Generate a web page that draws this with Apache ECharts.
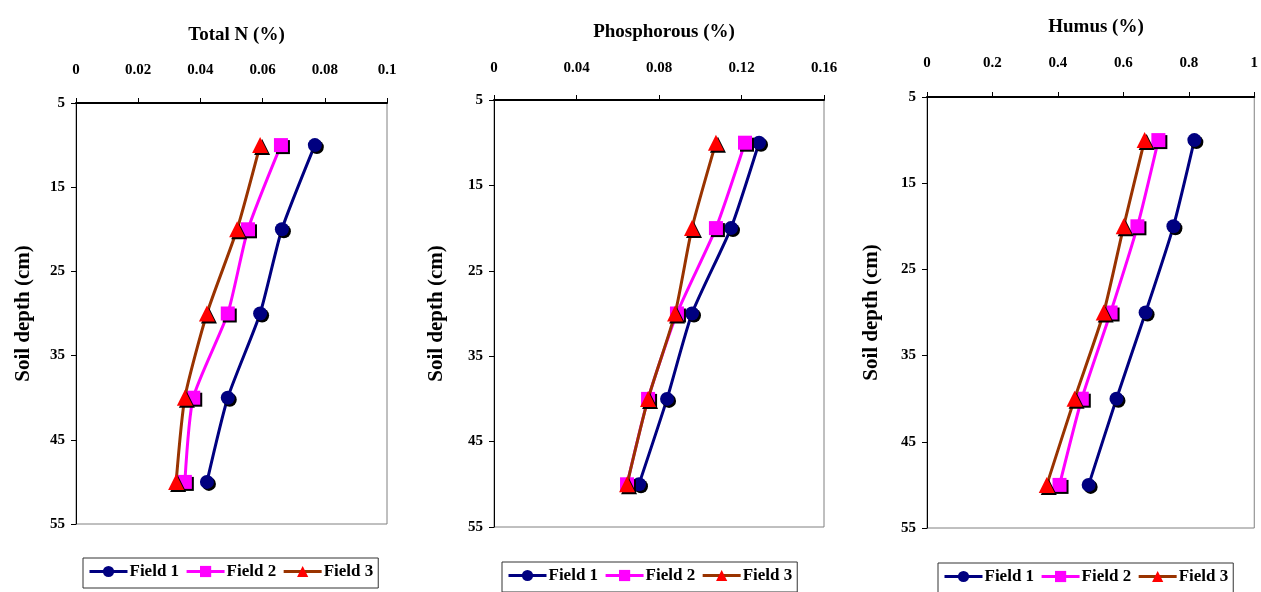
<!DOCTYPE html>
<html>
<head>
<meta charset="utf-8">
<script src="https://cdn.jsdelivr.net/npm/echarts@6/dist/echarts.min.js"></script>
<style>
  html, body { margin: 0; padding: 0; background: #fff; }
  #chart { width: 1261px; height: 592px; }
</style>
</head>
<body>
<div id="chart"></div>
<script>
// soil depth (cm) for each sample
const depths = [10, 20, 30, 40, 50]
const depthTicks = [5, 15, 25, 35, 45, 55]
const fieldNames = ['Field 1', 'Field 2', 'Field 3']

// Total N (%)
const nitrogenField1 = [0.0768, 0.0662, 0.0592, 0.0488, 0.0421]
const nitrogenField2 = [0.0659, 0.0553, 0.0488, 0.0377, 0.0350]
const nitrogenField3 = [0.0592, 0.0518, 0.0421, 0.0350, 0.0322]

// Phosphorous (%)
const phosField1 = [0.1285, 0.1149, 0.0960, 0.0839, 0.0703]
const phosField2 = [0.1217, 0.1076, 0.0887, 0.0747, 0.0645]
const phosField3 = [0.1076, 0.0960, 0.0878, 0.0747, 0.0645]

// Humus (%)
const humusField1 = [0.817, 0.753, 0.668, 0.579, 0.494]
const humusField2 = [0.707, 0.643, 0.561, 0.473, 0.405]
const humusField3 = [0.665, 0.601, 0.540, 0.451, 0.366]

const FONT = 'Liberation Serif'
const fieldStyles = [
  { line: '#000080', mark: '#000080', symbol: 'circle', size: 14 },
  { line: '#FF00FF', mark: '#FF00FF', symbol: 'rect', size: 14 },
  { line: '#993300', mark: '#FF0000', symbol: 'triangle', size: 16 }
]

const panels = [
  { title: 'Total N (%)', values: [nitrogenField1, nitrogenField2, nitrogenField3],
    max: 0.1, interval: 0.02, grid: { left: 76, top: 103, width: 311, height: 421 },
    titleY: 21, nameGap: 42, labelMargin: 25, legend: { left: 83, top: 558 } },
  { title: 'Phosphorous (%)', values: [phosField1, phosField2, phosField3],
    max: 0.16, interval: 0.04, grid: { left: 494, top: 100, width: 330, height: 427 },
    titleY: 18, nameGap: 47, labelMargin: 24, legend: { left: 502, top: 562 } },
  { title: 'Humus (%)', values: [humusField1, humusField2, humusField3],
    max: 1, interval: 0.2, grid: { left: 927, top: 97, width: 328, height: 431 },
    titleY: 13, nameGap: 45, labelMargin: 26, legend: { left: 938, top: 563 } }
]

const chart = echarts.init(document.getElementById('chart'))

const option = {
  animation: false,
  backgroundColor: '#fff',
  textStyle: { fontFamily: FONT },
  title: panels.map(p => ({
    text: p.title,
    left: p.grid.left + p.grid.width / 2,
    top: p.titleY,
    textAlign: 'center',
    textStyle: { fontFamily: FONT, fontSize: 19, fontWeight: 'bold', color: '#000' }
  })),
  legend: panels.map(p => ({
    data: fieldNames,
    left: p.legend.left,
    top: p.legend.top,
    orient: 'horizontal',
    backgroundColor: '#fff',
    borderColor: '#333',
    borderWidth: 1,
    padding: [5, 5, 8, 5],
    itemGap: 6,
    itemWidth: 38,
    itemHeight: 14,
    lineStyle: { width: 3 },
    textStyle: { fontFamily: FONT, fontSize: 17, fontWeight: 'bold', color: '#000', padding: [0, 0, 0, -3] }
  })),
  grid: panels.map(p => Object.assign({
    show: true,
    borderColor: '#808080',
    borderWidth: 1,
    backgroundColor: 'transparent'
  }, p.grid)),
  xAxis: panels.map((p, i) => ({
    type: 'value',
    gridIndex: i,
    position: 'top',
    min: 0,
    max: p.max,
    interval: p.interval,
    axisLine: { show: true, lineStyle: { color: '#000', width: 2 } },
    axisTick: { show: true, length: 5, lineStyle: { color: '#000' } },
    splitLine: { show: false },
    axisLabel: {
      margin: p.labelMargin,
      color: '#000',
      fontFamily: FONT,
      fontSize: 15,
      fontWeight: 'bold'
    }
  })),
  yAxis: panels.map((p, i) => ({
    type: 'value',
    gridIndex: i,
    inverse: true,
    min: 5,
    max: 55,
    name: 'Soil depth (cm)',
    nameLocation: 'middle',
    nameGap: p.nameGap,
    nameTextStyle: { fontFamily: FONT, fontSize: 21, fontWeight: 'bold', color: '#000' },
    axisLine: { show: true, lineStyle: { color: '#000', width: 1 } },
    axisTick: { show: true, length: 5, customValues: depthTicks, lineStyle: { color: '#000' } },
    splitLine: { show: false },
    axisLabel: {
      customValues: depthTicks,
      margin: 11,
      color: '#000',
      fontFamily: FONT,
      fontSize: 15,
      fontWeight: 'bold'
    }
  })),
  series: []
}

panels.forEach((p, i) => {
  p.values.forEach((vals, f) => {
    const st = fieldStyles[f]
    option.series.push({
      name: fieldNames[f],
      type: 'line',
      xAxisIndex: i,
      yAxisIndex: i,
      smooth: 0.2,
      symbol: st.symbol,
      symbolSize: st.size,
      data: vals.map((v, k) => [v, depths[k]]),
      lineStyle: { color: st.line, width: 3 },
      itemStyle: {
        color: st.mark,
        shadowColor: '#000',
        shadowBlur: 0,
        shadowOffsetX: 2,
        shadowOffsetY: 2
      },
      z: 2 + f
    })
  })
})

chart.setOption(option)
</script>
</body>
</html>
